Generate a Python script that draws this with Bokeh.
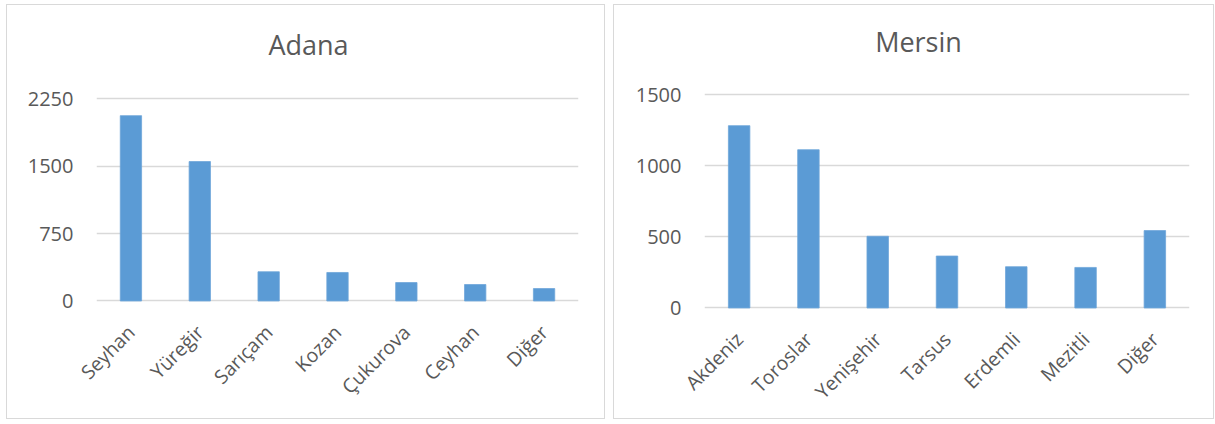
import math
from bokeh.plotting import figure
from bokeh.layouts import row, column
from bokeh.models import Range1d, FixedTicker, ColumnDataSource, Spacer
from bokeh.core.properties import value
from bokeh.embed import file_html
from bokeh.resources import INLINE

adana_categories = ["Seyhan", "Yüreğir", "Sarıçam", "Kozan", "Çukurova", "Ceyhan", "Diğer"]
adana_values = [2060, 1550, 325, 317, 205, 183, 138]
adana_ticks = [0, 750, 1500, 2250]

mersin_categories = ["Akdeniz", "Toroslar", "Yenişehir", "Tarsus", "Erdemli", "Mezitli", "Diğer"]
mersin_values = [1281, 1112, 504, 365, 290, 285, 544]
mersin_ticks = [0, 500, 1000, 1500]

FONT = "Open Sans"
GRAY = "#595959"
BAR = "#5b9bd5"


def make_chart(title, cats, vals, ticks, y0, y1, fw, fh, left, right, top, bottom,
               ty, tdx):
    p = figure(x_range=cats, y_range=Range1d(y0, y1),
               frame_width=fw, frame_height=fh,
               min_border_left=left, min_border_right=right,
               min_border_top=top, min_border_bottom=bottom,
               output_backend="svg", toolbar_location=None)
    p.styles = {"border": "1px solid #d9d9d9"}
    src = ColumnDataSource(dict(cat=cats, val=vals))
    p.vbar(x="cat", top="val", bottom=0, width=0.31, source=src,
           fill_color=BAR, line_color="#6fa6d9", line_width=0.8)
    p.outline_line_color = None
    p.background_fill_color = "white"
    p.border_fill_color = "white"
    p.xgrid.grid_line_color = None
    p.ygrid.grid_line_color = "#d9d9d9"
    p.ygrid.grid_line_width = 1.6
    p.yaxis.ticker = FixedTicker(ticks=ticks)
    for ax in (p.xaxis[0], p.yaxis[0]):
        ax.axis_line_color = None
        ax.major_tick_line_color = None
        ax.minor_tick_line_color = None
        ax.major_tick_out = 0
        ax.major_tick_in = 0
        ax.major_label_text_font = FONT
        ax.major_label_text_color = GRAY
    p.yaxis.major_label_text_font_size = "20px"
    p.yaxis.major_label_standoff = 23
    p.xaxis.major_label_text_font_size = "19.5px"
    p.xaxis.major_label_orientation = math.pi / 4
    p.xaxis.major_label_standoff = 26
    p.x_range.range_padding = 0
    # chart title, drawn as text inside the (upward-extended) frame
    p.text(x=[cats[3]], y=[ty], text=[title], text_align="center",
           text_baseline="alphabetic", text_font=value(FONT),
           text_font_size=value("27px"), text_color=GRAY, x_offset=tdx)
    return p


p1 = make_chart("Adana", adana_categories, adana_values, adana_ticks,
                -16.8, 3129, 480, 281, 89, 28, 14, 118, 2849, -29)
p2 = make_chart("Mersin", mersin_categories, mersin_values, mersin_ticks,
                -10.6, 2027, 483, 288, 90, 26, 14, 111, 1872, -28.5)

layout = column(Spacer(height=4),
                row(Spacer(width=6), p1, Spacer(width=8), p2))
open("out.html", "w").write(file_html(layout, INLINE))
